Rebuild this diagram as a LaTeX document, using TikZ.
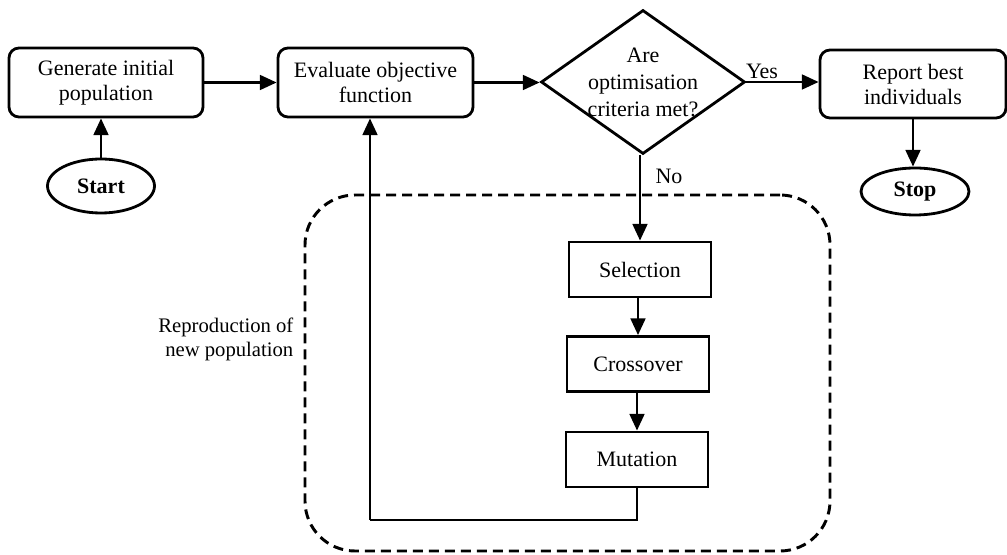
\documentclass[tikz,border=0pt]{standalone}
\usepackage{fontspec}
\setmainfont{Liberation Serif}
\usetikzlibrary{arrows.meta,shapes.geometric}
\tikzset{
  boxtxt/.style={font=\fontsize{16.5}{18.75}\selectfont, align=center},
  roundbox/.style={boxtxt, draw, line width=2.1pt, rounded corners=7.5pt, inner sep=0pt},
  plainbox/.style={boxtxt, draw, line width=2.1pt, inner sep=0pt, minimum width=106.5pt, minimum height=41.25pt},
  term/.style={draw, ellipse, line width=2.1pt, inner sep=0pt, font=\fontsize{16.5}{18.75}\selectfont\bfseries},
  decision/.style={draw, diamond, line width=2.1pt, inner sep=0pt, minimum width=153pt, minimum height=108pt},
  arrow/.style={line width=2pt, -{Triangle[length=12.5pt,width=11pt]}},
  link/.style={line width=2pt},
  lbl/.style={font=\fontsize{16.5}{18.75}\selectfont},
  groupbox/.style={draw, line width=2.2pt, dash pattern=on 7.5pt off 4.5pt, rounded corners=37.5pt, inner sep=0pt}
}
\begin{document}
\begin{tikzpicture}[x=0.75pt,y=-0.75pt]
\useasboundingbox (0,0) rectangle (1007,555);
% dashed group
\node[groupbox, minimum width=393.75pt, minimum height=267pt] (repro) at (567.5,373) {};
\node[lbl, align=right, anchor=east, font=\fontsize{15.5}{18}\selectfont] (reprolbl) at (298,339) {Reproduction of\\new population};
% main nodes
\node[roundbox, minimum width=145.5pt, minimum height=51.75pt] (gen) at (106,82.5) {Generate initial\\population};
\node[roundbox, minimum width=146.25pt, minimum height=51.75pt] (eval) at (375.5,82.5) {Evaluate objective\\function};
\node[decision] (dia) at (643,82) {};
\node[boxtxt, font=\fontsize{16.5}{20.25}\selectfont] (diatxt) at (dia.center) {Are\\optimisation\\criteria met?};
\node[roundbox, minimum width=139.5pt, minimum height=51pt] (rep) at (913,84) {Report best\\individuals};
\node[term, minimum width=80.25pt, minimum height=40.5pt] (start) at (101,186) {Start};
\node[term, minimum width=81pt, minimum height=35.25pt] (stop) at (915,191.5) {Stop};
\node[plainbox] (sel) at (640,269.5) {Selection};
\node[plainbox] (cross) at (638,364) {Crossover};
\node[plainbox] (mut) at (637,459.5) {Mutation};
\node[lbl] (yes) at (762,71) {Yes};
\node[lbl] (no) at (669,176) {No};
\coordinate (loopc) at (370,520);
% connectors
\draw[arrow] (start.north) -- (start.north |- gen.south);
\draw[arrow] (gen.east) -- (gen.east -| eval.west);
\draw[arrow] (eval.east) -- (eval.east -| dia.west);
\draw[arrow] (dia.east) -- (dia.east -| rep.west);
\draw[arrow] (rep.south) -- (rep.south |- stop.north);
\draw[arrow] (dia.south -| sel.north) -- (sel.north);
\draw[arrow] (sel.south -| cross.north) -- (cross.north);
\draw[arrow] (cross.south -| mut.north) -- (mut.north);
\draw[link] (mut.south) |- (loopc);
\draw[arrow] (loopc) -- (loopc |- eval.south);
\end{tikzpicture}
\end{document}
